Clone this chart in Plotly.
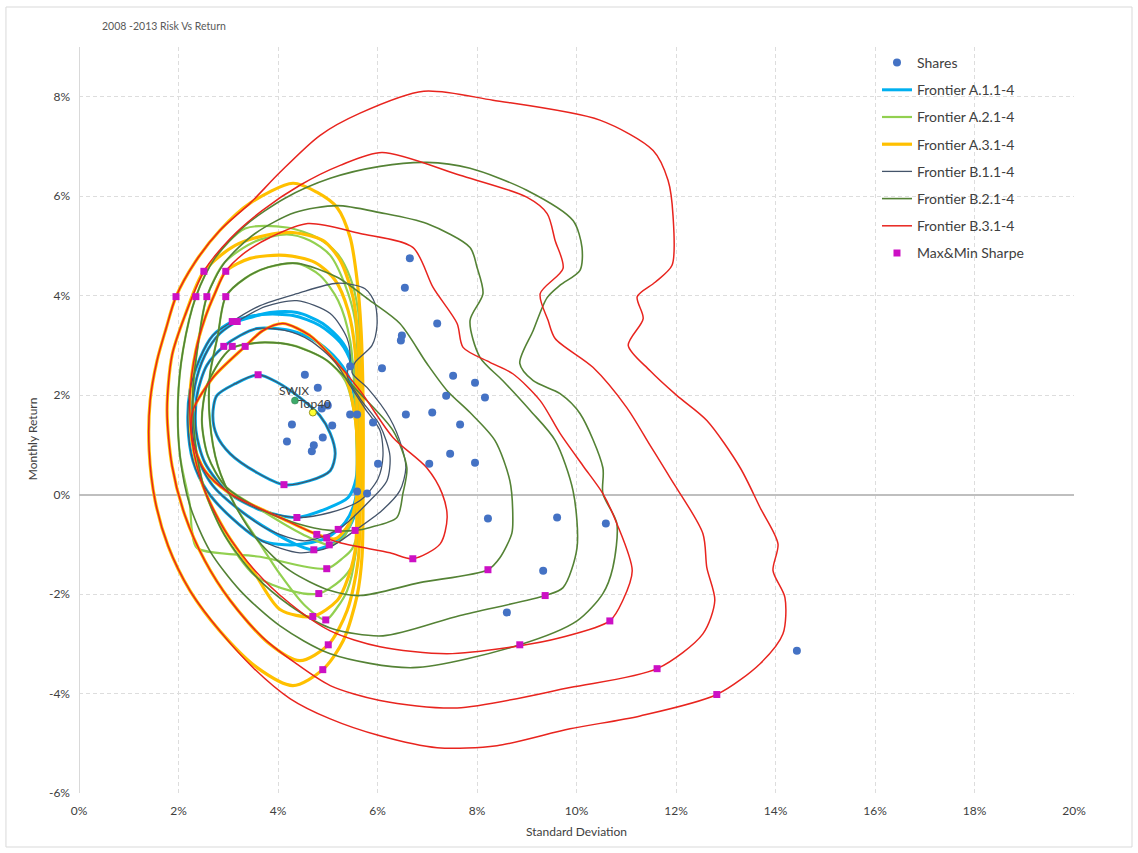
import plotly.graph_objects as go

# ---------------- data (standard deviation %, monthly return %) ----------------
# Frontier A.1 (4 frontiers)
A1_1 = [(3.60,2.41),(3.14,2.23),(2.77,1.99),(2.69,1.59),(2.77,1.19),(3.04,0.82),(3.58,0.44),(4.12,0.20),
        (4.64,0.28),(5.05,0.48),(5.15,0.82),(5.05,1.23),(4.84,1.59),(4.44,1.95),(4.00,2.25),(3.60,2.41)]
A1_2 = [(3.58,3.34),(3.24,3.20),(2.91,2.98),(2.57,2.60),(2.37,1.99),(2.35,1.29),(2.53,0.64),(3.00,0.04),
        (3.68,-0.32),(4.38,-0.46),(4.98,-0.28),(5.41,-0.06),(5.57,0.32),(5.59,1.09),(5.55,1.89),(5.41,2.39),
        (5.11,2.80),(4.74,3.10),(4.24,3.30),(3.58,3.34)]
A1_3 = [(3.18,3.48),(2.83,3.24),(2.53,2.80),(2.33,2.19),(2.27,1.49),(2.37,0.78),(2.69,0.18),(3.24,-0.32),
        (3.84,-0.72),(4.38,-1.01),(4.72,-1.11),(5.19,-0.93),(5.45,-0.62),(5.59,-0.22),(5.65,0.68),(5.63,1.89),
        (5.55,2.49),(5.31,3.04),(4.90,3.44),(4.38,3.66),(3.84,3.66),(3.44,3.56),(3.18,3.48)]
A1_4 = [(3.08,3.48),(2.69,3.20),(2.43,2.74),(2.23,2.09),(2.19,1.39),(2.29,0.68),(2.57,0.08),(3.08,-0.48),
        (3.68,-0.93),(4.34,-1.01),(4.98,-0.87),(5.35,-0.56),(5.55,-0.12),(5.61,0.68),(5.59,1.89),(5.49,2.60),
        (5.25,3.06),(4.84,3.40),(4.30,3.60),(3.68,3.62),(3.08,3.48)]

# Frontier A.2
A2_1 = [(4.18,5.37),(4.78,5.17),(5.19,4.85),(5.45,4.37),(5.61,3.70),(5.65,2.70),(5.67,1.49),(5.67,0.00),
        (5.61,-0.72),(5.49,-1.09),(5.31,-1.27),(4.98,-1.49),(3.64,-1.25),(2.37,-1.07),(2.27,-0.72),(2.23,-0.22),
        (2.03,0.78),(1.99,1.89),(2.09,2.90),(2.35,3.98),(2.73,4.75),(3.34,5.35),(4.18,5.37)]
A2_2 = [(4.18,5.23),(4.64,5.11),(5.05,4.81),(5.35,4.21),(5.55,3.50),(5.61,2.29),(5.63,0.68),(5.61,-0.72),
        (5.51,-1.39),(5.25,-1.73),(4.82,-1.99),(4.24,-1.93),(3.54,-1.63),(2.93,-0.82),(2.53,0.08),(2.33,1.09),
        (2.29,2.09),(2.39,3.00),(2.57,3.98),(2.93,4.67),(3.54,5.09),(4.18,5.23)]
A2_3 = [(4.38,4.65),(4.84,4.41),(5.21,3.90),(5.45,3.10),(5.55,1.89),(5.59,0.28),(5.55,-1.23),(5.39,-1.93),
        (5.19,-2.27),(4.96,-2.52),(4.54,-2.23),(4.04,-1.60),(3.60,-0.93),(3.14,-0.22),(2.79,0.58),(2.63,1.49),
        (2.63,2.39),(2.79,3.20),(2.95,3.98),(3.34,4.35),(3.80,4.57),(4.38,4.65)]
A2_4 = [(3.74,3.06),(4.30,3.00),(4.98,2.70),(5.35,2.29),(5.55,1.49),(5.59,0.28),(5.49,-0.52),(5.29,-0.89),
        (5.03,-1.01),(4.50,-0.80),(3.58,-0.26),(2.93,0.18),(2.59,0.78),(2.47,1.49),(2.57,2.19),(2.87,2.74),
        (3.08,2.95),(3.34,3.02),(3.74,3.06)]

# Frontier A.3
A3_1 = [(4.30,6.26),(4.78,6.08),(5.19,5.77),(5.45,5.17),(5.59,4.31),(5.67,3.30),(5.71,1.89),(5.71,0.00),
        (5.69,-1.23),(5.59,-2.03),(5.31,-2.94),(4.90,-3.52),(4.30,-3.84),(3.58,-3.48),(2.83,-2.74),(2.23,-1.93),
        (1.79,-1.03),(1.53,-0.12),(1.41,0.89),(1.43,1.89),(1.57,2.70),(1.75,3.34),(1.95,3.98),(2.33,4.67),
        (2.83,5.31),(3.44,5.86),(4.30,6.26)]
A3_2 = [(4.30,5.27),(4.90,5.11),(5.25,4.71),(5.51,3.96),(5.61,3.10),(5.65,1.89),(5.65,0.00),(5.61,-1.33),
        (5.39,-2.33),(5.01,-3.02),(4.44,-3.34),(3.80,-2.98),(3.04,-2.13),(2.53,-1.33),(2.13,-0.42),(1.87,0.58),
        (1.77,1.69),(1.87,2.80),(2.13,3.60),(2.51,4.49),(3.14,5.01),(3.74,5.21),(4.30,5.27)]
A3_3 = [(3.44,4.75),(4.14,4.81),(4.74,4.67),(5.15,4.31),(5.41,3.70),(5.55,2.90),(5.59,1.49),(5.59,0.00),
        (5.55,-1.13),(5.35,-1.83),(5.19,-2.13),(4.70,-2.45),(4.04,-2.31),(3.54,-1.60),(2.93,-0.72),(2.49,0.18),
        (2.27,1.09),(2.23,1.99),(2.35,2.90),(2.53,3.54),(2.73,4.04),(2.95,4.49),(3.44,4.75)]
A3_4 = [(4.10,3.44),(4.64,3.20),(5.05,2.80),(5.35,2.39),(5.53,1.69),(5.61,0.68),(5.57,-0.12),(5.41,-0.62),
        (5.15,-0.89),(4.78,-0.80),(4.04,-0.46),(3.04,0.02),(2.53,0.48),(2.27,1.15),(2.29,1.69),(2.69,2.35),
        (3.34,2.98),(3.70,3.30),(4.10,3.44)]

# Frontier B.1
B1_1 = [(3.60,2.41),(3.14,2.23),(2.77,1.99),(2.69,1.59),(2.77,1.19),(3.04,0.82),(3.58,0.44),(4.12,0.20),
        (4.64,0.28),(5.05,0.48),(5.15,0.82),(5.05,1.23),(4.84,1.59),(4.44,1.95),(4.00,2.25),(3.60,2.41)]
B1_2 = [(3.58,3.34),(3.24,3.20),(2.91,2.98),(2.57,2.60),(2.37,1.99),(2.35,1.29),(2.53,0.64),(3.00,0.04),
        (3.68,-0.32),(4.38,-0.46),(5.05,-0.36),(5.65,-0.12),(6.01,0.32),(6.11,0.78),(6.05,1.29),(5.75,1.73),
        (5.45,2.19),(5.15,2.66),(4.64,3.10),(4.14,3.30),(3.58,3.34)]
B1_3 = [(3.18,3.48),(2.83,3.24),(2.53,2.80),(2.33,2.19),(2.27,1.49),(2.37,0.78),(2.69,0.18),(3.24,-0.32),
        (3.84,-0.72),(4.54,-0.93),(5.21,-0.70),(5.85,-0.12),(6.19,0.28),(6.25,0.78),(6.05,1.39),(5.65,1.93),
        (5.39,2.39),(5.45,2.70),(5.39,3.14),(5.05,3.64),(4.38,3.90),(3.74,3.78),(3.18,3.48)]
B1_4 = [(3.08,3.48),(2.69,3.20),(2.43,2.74),(2.23,2.09),(2.19,1.39),(2.29,0.68),(2.57,0.08),(3.08,-0.48),
        (3.68,-0.93),(4.44,-1.17),(5.05,-1.05),(5.55,-0.72),(6.09,-0.32),(6.45,0.08),(6.57,0.54),(6.49,0.95),
        (6.25,1.53),(5.81,2.13),(5.49,2.45),(5.55,2.66),(5.89,3.00),(5.99,3.40),(5.95,3.84),(5.75,4.14),
        (5.19,4.25),(4.38,4.04),(3.64,3.80),(3.08,3.48)]

# Frontier B.2
B2_1 = [(6.99,6.68),(7.86,6.56),(9.00,6.12),(9.93,5.51),(10.11,4.97),(10.07,4.51),(9.67,4.21),(9.41,3.96),
        (9.13,3.30),(8.86,2.64),(9.13,2.29),(9.67,2.03),(10.07,1.63),(10.53,0.54),(10.53,0.02),(10.81,-0.58),
        (10.73,-1.47),(10.53,-1.99),(10.01,-2.54),(8.86,-3.02),(6.71,-3.48),(5.05,-3.20),(4.04,-2.64),
        (3.24,-1.93),(2.63,-1.13),(2.23,-0.22),(2.03,0.78),(1.99,1.89),(2.09,2.90),(2.35,3.98),(2.73,4.75),
        (3.34,5.41),(4.14,5.96),(5.05,6.36),(6.05,6.60),(6.99,6.68)]
B2_2 = [(5.19,5.81),(6.05,5.67),(6.99,5.45),(7.86,4.97),(8.00,4.57),(8.12,4.04),(7.86,3.50),(8.06,2.76),
        (8.52,2.29),(9.07,1.69),(9.57,1.09),(9.93,0.08),(10.01,-1.07),(9.73,-1.87),(9.37,-2.03),(7.66,-2.43),
        (6.11,-2.84),(5.05,-2.68),(4.24,-2.23),(3.54,-1.63),(2.93,-0.82),(2.53,0.08),(2.33,1.09),(2.29,2.09),
        (2.39,3.00),(2.57,3.98),(2.93,4.67),(3.54,5.25),(4.34,5.67),(5.19,5.81)]
B2_3 = [(4.38,4.65),(5.19,4.37),(5.85,3.90),(6.45,3.44),(6.99,2.64),(7.40,2.09),(7.86,1.65),(8.36,1.09),
        (8.66,0.28),(8.72,-0.46),(8.70,-0.78),(8.46,-1.27),(8.22,-1.51),(6.85,-1.77),(5.65,-2.03),(5.05,-1.93),
        (4.24,-1.53),(3.60,-0.93),(3.14,-0.22),(2.79,0.58),(2.63,1.49),(2.63,2.39),(2.79,3.20),(2.95,3.98),
        (3.34,4.35),(3.80,4.57),(4.38,4.65)]
B2_4 = [(3.74,3.06),(4.30,3.00),(4.98,2.70),(5.65,2.03),(6.31,1.29),(6.59,0.54),(6.51,0.02),(6.39,-0.46),
        (5.85,-0.66),(5.55,-0.72),(5.05,-0.72),(4.38,-0.58),(3.58,-0.26),(2.93,0.18),(2.59,0.78),(2.47,1.49),
        (2.57,2.19),(2.87,2.74),(3.08,2.95),(3.34,3.02),(3.74,3.06)]

# Frontier B.3
B3_1 = [(6.93,8.11),(8.32,7.93),(10.47,7.53),(11.54,6.92),(11.84,6.32),(11.94,5.61),(11.92,4.61),(11.58,4.27),
        (11.22,3.98),(11.34,3.54),(11.04,3.00),(11.48,2.49),(12.02,1.99),(12.62,1.49),(13.29,0.54),(13.69,-0.26),
        (14.05,-0.99),(13.95,-1.53),(14.19,-2.07),(14.15,-2.80),(13.69,-3.40),(12.82,-4.02),(11.28,-4.45),
        (9.87,-4.71),(8.40,-5.05),(7.20,-5.09),(6.05,-4.85),(5.05,-4.51),(4.24,-4.10),(3.50,-3.48),(2.83,-2.74),
        (2.23,-1.93),(1.79,-1.03),(1.53,-0.12),(1.41,0.89),(1.43,1.89),(1.57,2.70),(1.75,3.34),(1.95,3.98),
        (2.33,4.67),(2.83,5.31),(3.44,5.86),(4.04,6.48),(4.84,7.22),(5.65,7.67),(6.93,8.11)]
B3_2 = [(6.09,6.88),(7.66,6.42),(9.00,5.98),(9.41,5.65),(9.57,5.11),(9.73,4.55),(9.27,4.04),(9.43,3.50),
        (9.57,3.14),(10.33,2.56),(11.01,1.75),(11.48,0.99),(11.88,0.34),(12.54,-0.78),(12.62,-1.47),(12.78,-2.13),
        (12.54,-2.80),(11.62,-3.50),(9.87,-3.88),(7.60,-4.29),(6.05,-4.14),(5.05,-3.84),(4.34,-3.38),(3.68,-2.86),
        (3.04,-2.13),(2.53,-1.33),(2.13,-0.42),(1.87,0.58),(1.77,1.69),(1.87,2.80),(2.13,3.60),(2.51,4.49),
        (3.04,5.15),(3.68,5.71),(4.44,6.22),(5.25,6.62),(6.09,6.88)]
B3_3 = [(4.60,5.45),(5.65,5.25),(6.71,4.97),(7.12,4.16),(7.60,3.44),(7.72,2.96),(8.26,2.66),(8.72,2.43),
        (9.27,1.89),(9.67,1.23),(10.13,0.58),(10.53,0.02),(10.81,-0.58),(11.12,-1.53),(10.93,-2.13),(10.67,-2.54),
        (9.67,-2.88),(8.86,-3.04),(7.40,-3.20),(6.05,-3.06),(5.05,-2.74),(4.24,-2.19),(3.54,-1.53),(2.93,-0.72),
        (2.49,0.18),(2.27,1.09),(2.23,1.99),(2.35,2.90),(2.53,3.54),(2.73,4.04),(2.95,4.49),(3.34,4.87),
        (3.84,5.17),(4.60,5.45)]
B3_4 = [(4.10,3.44),(4.64,3.20),(5.05,2.80),(5.65,2.09),(6.31,1.15),(6.99,0.54),(7.30,0.02),(7.40,-0.46),
        (7.26,-0.99),(6.71,-1.29),(6.25,-1.17),(5.25,-0.97),(4.78,-0.80),(4.04,-0.46),(3.04,0.02),(2.53,0.48),
        (2.27,1.15),(2.29,1.69),(2.69,2.35),(3.34,2.98),(3.70,3.30),(4.10,3.44)]

# Individual shares
SHARES_SD = [6.55, 6.65, 7.20, 6.49, 6.47, 5.45, 6.09, 7.52, 7.96, 7.38, 8.16, 4.80, 4.54, 4.88, 5.00,
             5.45, 5.59, 5.91, 6.57, 7.10, 7.66, 4.28, 5.09, 4.18, 4.90, 4.72, 4.68, 6.01, 7.46, 7.04,
             7.96, 5.59, 5.79, 8.22, 9.61, 10.59, 9.33, 8.60, 14.43]
SHARES_RET = [4.16, 4.75, 3.44, 3.20, 3.10, 2.58, 2.54, 2.39, 2.25, 1.99, 1.95, 2.15, 2.41, 1.73, 1.79,
              1.61, 1.61, 1.45, 1.61, 1.65, 1.41, 1.41, 1.39, 1.07, 1.15, 0.99, 0.87, 0.62, 0.82, 0.62,
              0.64, 0.06, 0.02, -0.48, -0.46, -0.58, -1.53, -2.37, -3.14]

# Indices
SWIX = (4.34, 1.89)
TOP40 = (4.70, 1.65)

# Maximum and minimum Sharpe portfolios
SHARPE_SD = [1.95, 2.35, 2.57, 2.95, 2.51, 2.95, 3.08, 3.18, 2.91, 3.08, 3.34, 3.60,
             4.12, 4.38, 4.78, 4.98, 5.21, 5.55, 5.03, 4.72, 6.71, 4.98, 4.82, 4.70, 4.96,
             5.01, 4.90, 8.22, 9.37, 8.86, 10.67, 11.62, 12.82]
SHARPE_RET = [3.98, 3.98, 3.98, 3.98, 4.49, 4.49, 3.48, 3.48, 2.98, 2.98, 2.98, 2.41,
              0.20, -0.46, -0.80, -0.87, -0.70, -0.72, -1.01, -1.11, -1.29, -1.49, -1.99, -2.45, -2.52,
              -3.02, -3.52, -1.51, -2.03, -3.02, -2.54, -3.50, -4.02]

X_TICKS = [0, 2, 4, 6, 8, 10, 12, 14, 16, 18, 20]
Y_TICKS = [-6, -4, -2, 0, 2, 4, 6, 8]

# ---------------- styling per frontier family ----------------
FONT = "Lato, Carlito, sans-serif"
families = [
    # name, curves, colour, width, legend rank
    ("Frontier A.1.1-4", [A1_1, A1_2, A1_3, A1_4], "#00B0F0", 3.0, 2),
    ("Frontier A.2.1-4", [A2_1, A2_2, A2_3, A2_4], "#92D050", 2.2, 3),
    ("Frontier A.3.1-4", [A3_1, A3_2, A3_3, A3_4], "#FFC000", 3.2, 4),
    ("Frontier B.1.1-4", [B1_1, B1_2, B1_3, B1_4], "#44546A", 1.3, 5),
    ("Frontier B.2.1-4", [B2_1, B2_2, B2_3, B2_4], "#548235", 1.6, 6),
    ("Frontier B.3.1-4", [B3_1, B3_2, B3_3, B3_4], "#E8241E", 1.5, 7),
]

fig = go.Figure()

for name, curves, color, width, rank in families:
    for i, pts in enumerate(curves):
        fig.add_trace(go.Scatter(
            x=[p[0] for p in pts], y=[p[1] for p in pts],
            mode="lines", name=name, legendgroup=name, legendrank=rank,
            showlegend=(i == 0),
            line=dict(color=color, width=width, shape="spline", smoothing=0.8),
            hoverinfo="skip",
        ))

fig.add_trace(go.Scatter(
    x=SHARES_SD, y=SHARES_RET, mode="markers", name="Shares",
    legendgroup="Shares", legendrank=1,
    marker=dict(color="#4472C4", size=8, symbol="circle"),
))

fig.add_trace(go.Scatter(
    x=[SWIX[0]], y=[SWIX[1]], mode="markers", showlegend=False,
    marker=dict(color="#3DAA6A", size=7, line=dict(color="#2E7D4F", width=0.5)),
))
fig.add_trace(go.Scatter(
    x=[TOP40[0]], y=[TOP40[1]], mode="markers", showlegend=False,
    marker=dict(color="#FFFF33", size=7, line=dict(color="#7F7F00", width=0.8)),
))

fig.add_trace(go.Scatter(
    x=SHARPE_SD, y=SHARPE_RET, mode="markers", name="Max&Min Sharpe",
    legendgroup="Sharpe", legendrank=8,
    marker=dict(color="#CC10C4", size=7, symbol="square"),
))

fig.update_layout(
    width=1138, height=853,
    margin=dict(l=79, r=64, t=47, b=60),
    paper_bgcolor="white", plot_bgcolor="white",
    font=dict(family=FONT, color="#404040"),
    showlegend=True,
    legend=dict(
        x=0.802, y=1.0, xanchor="left", yanchor="top",
        bgcolor="rgba(0,0,0,0)", font=dict(size=14, color="#404040", family=FONT),
        tracegroupgap=6, traceorder="grouped",
    ),
    xaxis=dict(
        range=[0, 20], tickvals=X_TICKS, ticktext=[f"{v}%" for v in X_TICKS],
        showgrid=True, gridcolor="#DDDDDD", griddash="4px,3px", gridwidth=1,
        zeroline=True, zerolinecolor="#D9D9D9", zerolinewidth=1,
        showline=False, ticks="", tickfont=dict(size=12, color="#404040"),
        ticklabelstandoff=9,
    ),
    yaxis=dict(
        range=[-6, 9], tickvals=Y_TICKS, ticktext=[f"{v}%" for v in Y_TICKS],
        showgrid=True, gridcolor="#DDDDDD", griddash="4px,3px", gridwidth=1,
        zeroline=True, zerolinecolor="#BFBFBF", zerolinewidth=1.5,
        showline=False, ticks="", tickfont=dict(size=12, color="#404040"),
        ticklabelstandoff=8,
    ),
    annotations=[
        dict(text="2008 -2013 Risk Vs Return", xref="paper", yref="paper", x=0.021, y=1.028,
             xanchor="left", yanchor="middle", showarrow=False,
             font=dict(size=10.5, color="#595959", family=FONT)),
        dict(text="Monthly Return", xref="paper", yref="paper", x=-0.047, y=0.4745,
             textangle=-90, xanchor="center", yanchor="middle", showarrow=False,
             font=dict(size=12, color="#404040", family=FONT)),
        dict(text="Standard Deviation", xref="paper", yref="paper", x=0.5, y=-0.052,
             xanchor="center", yanchor="middle", showarrow=False,
             font=dict(size=12, color="#404040", family=FONT)),
        dict(text="SWIX", x=4.32, y=2.09, xref="x", yref="y", showarrow=False,
             font=dict(size=12, color="#404040", family=FONT)),
        dict(text="Top40", x=4.74, y=1.83, xref="x", yref="y", showarrow=False,
             font=dict(size=12, color="#404040", family=FONT)),
    ],
    shapes=[
        dict(type="rect", xref="paper", yref="paper", x0=-0.0734, x1=1.0583, y0=-0.0724, y1=1.0536,
             line=dict(color="#D9D9D9", width=1), fillcolor="rgba(0,0,0,0)", layer="below"),
    ],
)

fig.write_html("out.html")
